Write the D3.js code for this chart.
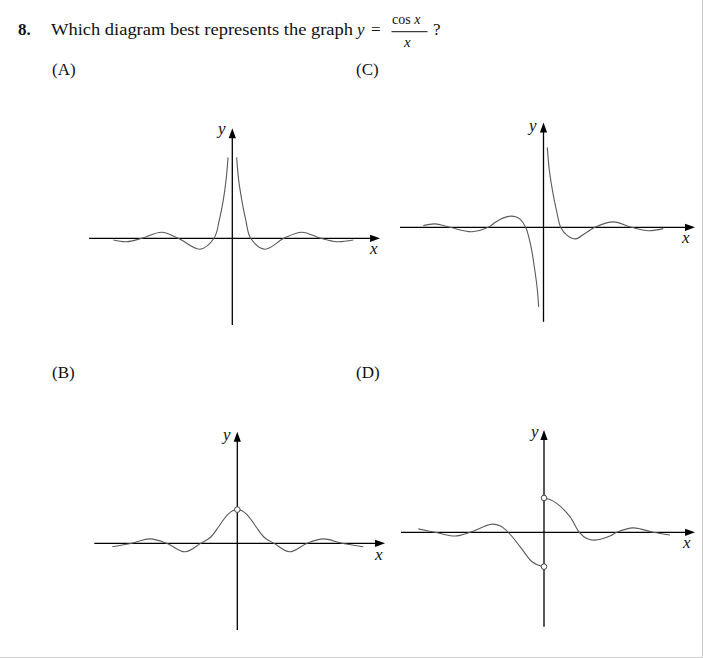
<!DOCTYPE html>
<html>
<head>
<meta charset="utf-8">
<script src="https://cdn.jsdelivr.net/npm/d3@7"></script>
<style>
  html, body { margin: 0; padding: 0; background: #fff; }
  svg { display: block; }
  text { font-family: "Liberation Serif", serif; fill: #111; }
</style>
</head>
<body>
<svg id="chart" width="703" height="658"></svg>
<script>
// ---------- data (x in "units", y in "units") ----------
const panelLabels = ["(A)", "(B)", "(C)", "(D)"];

// (A) both branches rise to +infinity near 0
const curveA_left  = [[-10.08,-0.05],[-8.95,-0.10],[-7.68,0],[-5.98,0.18],[-4.58,0],[-2.74,-0.32],[-1.55,0],[-1.10,0.54],[-0.76,1.13],[-0.53,1.71],[-0.36,2.38]];
const curveA_right = [[0.37,2.38],[0.54,1.71],[0.80,1.13],[1.14,0.54],[1.56,0],[2.77,-0.32],[4.38,0],[5.88,0.18],[7.49,0],[8.85,-0.10],[10.25,-0.05]];

// (B) even curve with open circle at (0,1)
const curveB = [[-10.59,-0.10],[-8.95,0],[-7.40,0.13],[-5.98,0],[-4.43,-0.25],[-3.10,0],[-2.30,0.17],[-1.60,0.48],[-1.20,0.68],[-0.80,0.85],[-0.40,0.96],[0,0.99],[0.40,0.96],[0.80,0.85],[1.20,0.68],[1.60,0.48],[2.30,0.17],[3.11,0],[4.43,-0.25],[5.91,0],[7.29,0.13],[8.87,0],[10.68,-0.10]];
const holesB = [[0,0.99]];

// (C) odd curve, -infinity on the left of 0, +infinity on the right
const curveC_left  = [[-10.19,0.05],[-9.19,0.10],[-7.92,0],[-6.08,-0.13],[-4.69,0],[-4.11,0.14],[-3.45,0.27],[-2.75,0.33],[-2.30,0.30],[-1.99,0.24],[-1.51,0],[-1.06,-0.57],[-0.78,-1.16],[-0.55,-1.75],[-0.41,-2.34]];
const curveC_right = [[0.32,2.35],[0.49,1.69],[0.75,1.10],[1.12,0.46],[1.46,0],[1.97,-0.23],[2.73,-0.34],[3.52,-0.18],[4.36,0],[5.92,0.16],[7.47,0],[8.88,-0.10],[10.15,-0.04]];

// (D) jump at 0 with open circles at (0,1) and (0,-1)
const curveD_left  = [[-10.65,0.10],[-9.24,0],[-7.54,-0.11],[-6.27,0],[-4.41,0.24],[-3.73,0.19],[-3.03,0],[-2.03,-0.42],[-1.04,-0.86],[-0.45,-0.97],[0,-1.01]];
const curveD_right = [[0,1.01],[0.45,0.97],[1.08,0.85],[2.20,0.46],[2.99,0],[3.62,-0.18],[4.32,-0.23],[5.59,-0.11],[6.16,0],[7.57,0.13],[9.26,0],[10.68,-0.08]];
const holesD = [[0,1.01],[0,-1.01]];

// axis extents in units: [xmin, xmax, ymin, ymax]
const axisA = [-12.14, 12.52, -2.55, 3.24];
const axisB = [-12.12, 12.52, -2.55, 3.28];
const axisC = [-12.16, 12.84, -2.78, 3.08];
const axisD = [-12.12, 12.80, -2.78, 3.01];

// ---------- layout ----------
const PXU_X = 11.8, PXU_Y = 34;
const panels = [
  { label: panelLabels[0], lx: 52, ly: 75,  ox: 232.3, oy: 238.3, axis: axisA, curves: [curveA_left, curveA_right], holes: [], ylab: [218, 134], xlab: [370, 254] },
  { label: panelLabels[1], lx: 52, ly: 378, ox: 237.3, oy: 543.3, axis: axisB, curves: [curveB], holes: holesB, ylab: [223, 440], xlab: [375, 560] },
  { label: panelLabels[2], lx: 356, ly: 75, ox: 543.5, oy: 227.3, axis: axisC, curves: [curveC_left, curveC_right], holes: [], ylab: [529, 131], xlab: [682, 243] },
  { label: panelLabels[3], lx: 356, ly: 378, ox: 544.0, oy: 532.3, axis: axisD, curves: [curveD_left, curveD_right], holes: holesD, ylab: [531, 437], xlab: [683, 548] }
];

const svg = d3.select("#chart");
const ITAL = '"Liberation Serif", serif';

// border (light grey at right and bottom)
svg.append("line").attr("x1", 702.5).attr("x2", 702.5).attr("y1", 0).attr("y2", 658).attr("stroke", "#cfcfcf").attr("stroke-width", 1);
svg.append("line").attr("x1", 0).attr("x2", 703).attr("y1", 657.5).attr("y2", 657.5).attr("stroke", "#cfcfcf").attr("stroke-width", 1);

// ---------- title ----------
svg.append("text").attr("x", 18).attr("y", 35).attr("font-size", 17).attr("font-weight", "bold").text("8.");
svg.append("text").attr("x", 51).attr("y", 35).attr("font-size", 17)
  .attr("textLength", 302).attr("lengthAdjust", "spacingAndGlyphs")
  .text("Which diagram best represents the graph");
svg.append("text").attr("x", 357).attr("y", 35).attr("font-size", 17).style("font-family", ITAL).style("font-style", "italic").text("y");
svg.append("text").attr("x", 371).attr("y", 35).attr("font-size", 17).text("=");
const num = svg.append("text").attr("x", 392).attr("y", 24).attr("font-size", 14);
num.append("tspan").text("cos ");
num.append("tspan").style("font-family", ITAL).style("font-style", "italic").text("x");
svg.append("line").attr("x1", 391.5).attr("x2", 427.5).attr("y1", 31.7).attr("y2", 31.7).attr("stroke", "#111").attr("stroke-width", 1);
svg.append("text").attr("x", 404).attr("y", 46.5).attr("font-size", 15).style("font-family", ITAL).style("font-style", "italic").text("x");
svg.append("text").attr("x", 433).attr("y", 35).attr("font-size", 17).text("?");

// ---------- panels ----------
panels.forEach(p => {
  const [xmin, xmax, ymin, ymax] = p.axis;
  const x = d3.scaleLinear().domain([0, 1]).range([p.ox, p.ox + PXU_X]);
  const y = d3.scaleLinear().domain([0, 1]).range([p.oy, p.oy - PXU_Y]);
  const g = svg.append("g");

  g.append("text").attr("x", p.lx).attr("y", p.ly).attr("font-size", 17).text(p.label);

  // axes
  const ah = 10, aw = 3.6;
  g.append("line").attr("x1", x(xmin)).attr("x2", x(xmax) - 4).attr("y1", y(0)).attr("y2", y(0))
    .attr("stroke", "#000").attr("stroke-width", 1.3);
  g.append("line").attr("x1", x(0)).attr("x2", x(0)).attr("y1", y(ymin)).attr("y2", y(ymax) + 4)
    .attr("stroke", "#000").attr("stroke-width", 1.3);
  // arrowheads
  const tx = x(xmax), ty = y(0);
  g.append("path").attr("d", `M${tx},${ty} L${tx - ah},${ty - aw} L${tx - ah},${ty + aw} Z`).attr("fill", "#000");
  const ux = x(0), uy = y(ymax);
  g.append("path").attr("d", `M${ux},${uy} L${ux - aw},${uy + ah} L${ux + aw},${uy + ah} Z`).attr("fill", "#000");

  // axis letters
  g.append("text").attr("x", p.ylab[0]).attr("y", p.ylab[1]).attr("font-size", 17).style("font-family", ITAL).style("font-style", "italic").text("y");
  g.append("text").attr("x", p.xlab[0]).attr("y", p.xlab[1]).attr("font-size", 17).style("font-family", ITAL).style("font-style", "italic").text("x");

  // curves
  const line = d3.line().x(d => x(d[0])).y(d => y(d[1])).curve(d3.curveCatmullRom.alpha(0.5));
  p.curves.forEach(c => {
    g.append("path").attr("d", line(c)).attr("fill", "none").attr("stroke", "#5a5a5a").attr("stroke-width", 1.1);
  });

  // open circles
  p.holes.forEach(h => {
    g.append("circle").attr("cx", x(h[0])).attr("cy", y(h[1])).attr("r", 2.8)
      .attr("fill", "#fff").attr("stroke", "#333").attr("stroke-width", 0.9);
  });
});
</script>
</body>
</html>
